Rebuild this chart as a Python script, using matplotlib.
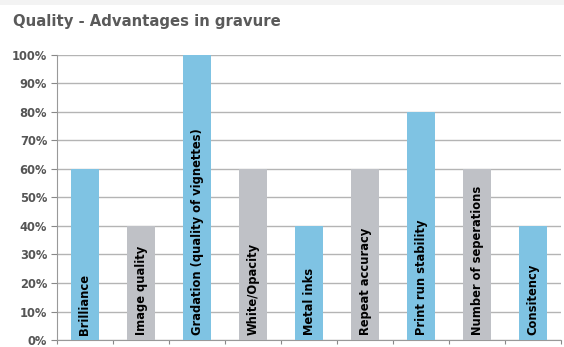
import matplotlib
matplotlib.use("Agg")
import matplotlib.pyplot as plt
import numpy as np
from matplotlib.patches import Rectangle
from matplotlib.ticker import FuncFormatter, MultipleLocator

categories = ["Brilliance", "Image quality", "Gradation (quality of vignettes)",
              "White/Opacity", "Metal inks", "Repeat accuracy",
              "Print run stability", "Number of seperations", "Consitency"]
values = [60, 40, 100, 60, 40, 60, 80, 60, 40]
BLUE = "#7fc3e3"
GREY = "#bfc1c6"
colors = [BLUE, GREY, BLUE, GREY, BLUE, GREY, BLUE, GREY, BLUE]

fig = plt.figure(figsize=(5.64, 3.47), dpi=100, facecolor="white")
# faint strip along the top edge of the slide
fig.patches.append(Rectangle((0, 0.986), 1, 0.014, transform=fig.transFigure,
                             facecolor="#f3f3f3", edgecolor="none", zorder=0))
ax = fig.add_axes([0.101, 0.020, 0.894, 0.822])

x = np.arange(len(categories))
ax.bar(x, values, width=0.49, color=colors, zorder=3)
for xi, name in zip(x, categories):
    ax.text(xi, 1.8, name, rotation=90, ha="center", va="bottom",
            fontsize=8.3, fontweight="bold", color="black", zorder=4)

ax.set_xlim(-0.5, len(categories) - 0.5)
ax.set_ylim(0, 100)
ax.yaxis.set_major_locator(MultipleLocator(10))
ax.yaxis.set_major_formatter(FuncFormatter(lambda v, _: f"{v:.0f}%"))
ax.set_xticks(np.arange(len(categories) + 1) - 0.5)
ax.set_xticklabels([])
ax.grid(axis="y", color="#b4b4b4", lw=1.0, zorder=1)
ax.tick_params(axis="y", length=4, color="#888888", labelsize=8.3,
               labelcolor="#555555", pad=3)
ax.tick_params(axis="x", length=3, color="#888888")
for lbl in ax.get_yticklabels():
    lbl.set_fontweight("bold")
for side in ("top", "right"):
    ax.spines[side].set_visible(False)
for side in ("left", "bottom"):
    ax.spines[side].set_color("#999999")

fig.text(13 / 564, 1 - 26 / 347, "Quality - Advantages in gravure",
         fontsize=10.75, fontweight="bold", color="#5a5a5a", va="baseline")

fig.savefig("out.png", dpi=100)
